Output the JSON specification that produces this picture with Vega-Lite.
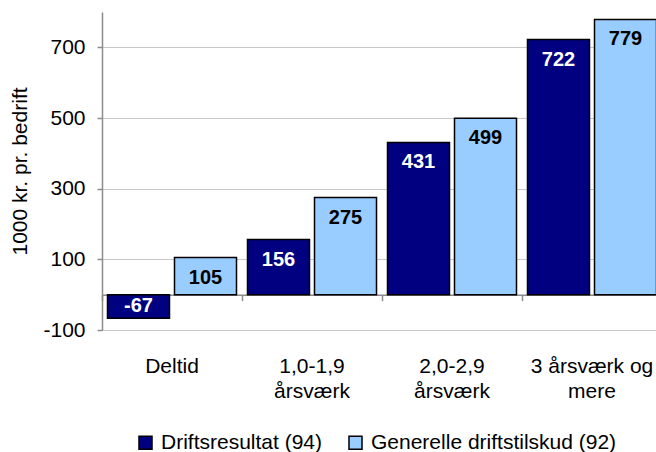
{
  "$schema": "https://vega.github.io/schema/vega-lite/v6.json",
  "width": 560,
  "height": 318,
  "autosize": "none",
  "padding": {"left": 102, "top": 12, "right": 0, "bottom": 122},
  "background": "white",
  "config": {"view": {"stroke": null}, "font": "Liberation Sans"},
  "data": {
    "values": [
      {"category": "Deltid", "series": "Driftsresultat (94)", "value": -67},
      {"category": "Deltid", "series": "Generelle driftstilskud (92)", "value": 105},
      {"category": "1,0-1,9 årsværk", "series": "Driftsresultat (94)", "value": 156},
      {"category": "1,0-1,9 årsværk", "series": "Generelle driftstilskud (92)", "value": 275},
      {"category": "2,0-2,9 årsværk", "series": "Driftsresultat (94)", "value": 431},
      {"category": "2,0-2,9 årsværk", "series": "Generelle driftstilskud (92)", "value": 499},
      {"category": "3 årsværk og mere", "series": "Driftsresultat (94)", "value": 722},
      {"category": "3 årsværk og mere", "series": "Generelle driftstilskud (92)", "value": 779}
    ]
  },
  "resolve": {"axis": {"x": "independent"}},
  "layer": [
    {
      "mark": {"type": "bar", "stroke": "black", "strokeWidth": 1.5},
      "encoding": {
        "x": {
          "field": "category", "type": "nominal", "sort": null,
          "scale": {"domain": ["Deltid", "1,0-1,9 årsværk", "2,0-2,9 årsværk", "3 årsværk og mere"], "paddingInner": 0, "paddingOuter": 0},
          "axis": {
            "orient": "bottom", "title": null, "domain": false, "ticks": false, "grid": false,
            "labelAngle": 0, "labelFontSize": 21, "labelColor": "black", "labelPadding": 42,
            "labelLineHeight": 25, "labelBaseline": "alphabetic", "labelLimit": 200,
            "labelExpr": "datum.value == '1,0-1,9 årsværk' ? ['1,0-1,9', 'årsværk'] : datum.value == '2,0-2,9 årsværk' ? ['2,0-2,9', 'årsværk'] : datum.value == '3 årsværk og mere' ? ['3 årsværk og', 'mere'] : datum.value"
          }
        },
        "xOffset": {"field": "series", "sort": null, "scale": {"paddingInner": 0.0746, "paddingOuter": 0.082}},
        "y": {
          "field": "value", "type": "quantitative",
          "scale": {"domain": [-100, 800], "nice": false, "zero": false},
          "axis": {
            "title": "1000 kr. pr. bedrift", "titleFontSize": 21, "titleFontWeight": "normal", "titleColor": "black", "titlePadding": 12,
            "values": [-100, 100, 300, 500, 700], "labelFontSize": 21, "labelColor": "black", "labelPadding": 12,
            "labelExpr": "toString(datum.value)",
            "tickSize": 5, "tickColor": "#8c8c8c", "domainColor": "#8c8c8c", "domainWidth": 1.5, "tickWidth": 1.5,
            "grid": true, "gridColor": "#c8c8c8", "gridWidth": 1
          }
        },
        "color": {
          "field": "series", "type": "nominal",
          "scale": {"domain": ["Driftsresultat (94)", "Generelle driftstilskud (92)"], "range": ["#000080", "#99CCFF"]},
          "legend": {
            "title": null, "orient": "none", "direction": "horizontal", "legendX": 33, "legendY": 420,
            "symbolType": "square", "symbolSize": 170, "symbolStrokeColor": "black", "symbolStrokeWidth": 1.5,
            "labelFontSize": 21, "labelColor": "black", "columnPadding": 22, "labelOffset": 5, "labelLimit": 400
          }
        }
      }
    },
    {
      "mark": {"type": "text", "fontSize": 20, "fontWeight": "bold", "baseline": "middle", "dy": 20},
      "transform": [{"filter": "datum.value >= 0"}],
      "encoding": {
        "x": {
          "field": "category", "type": "nominal", "sort": null,
          "axis": {"orient": "bottom", "offset": -35.33, "labels": false, "title": null, "grid": false,
                   "domain": true, "domainColor": "#8c8c8c", "domainWidth": 1.5,
                   "ticks": true, "tickBand": "extent", "tickSize": 6, "tickColor": "#8c8c8c", "tickWidth": 1.5}
        },
        "xOffset": {"field": "series", "sort": null},
        "y": {"field": "value", "type": "quantitative"},
        "text": {"field": "value"},
        "color": {"condition": {"test": "datum.series == 'Driftsresultat (94)'", "value": "white"}, "value": "black"}
      }
    },
    {
      "mark": {"type": "text", "fontSize": 20, "fontWeight": "bold", "baseline": "middle", "dy": -12, "color": "white"},
      "transform": [{"filter": "datum.value < 0"}],
      "encoding": {
        "x": {"field": "category", "type": "nominal", "sort": null, "axis": null},
        "xOffset": {"field": "series", "sort": null},
        "y": {"field": "value", "type": "quantitative"},
        "text": {"field": "value"}
      }
    }
  ]
}
